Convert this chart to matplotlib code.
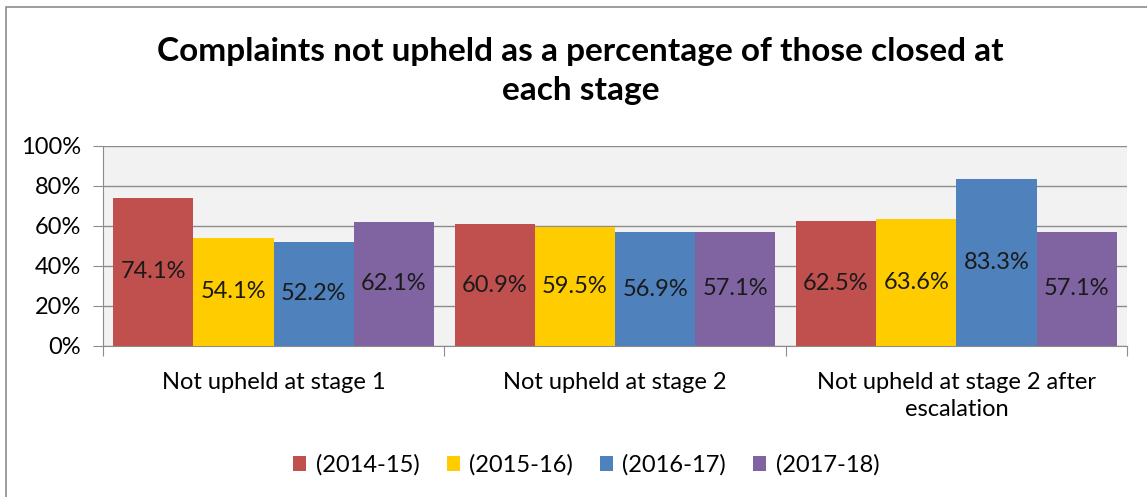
import matplotlib.pyplot as plt
import numpy as np
from matplotlib.patches import Rectangle
from matplotlib.ticker import PercentFormatter

plt.rcParams['font.family'] = ['Lato', 'DejaVu Sans']

categories = ['Not upheld at stage 1', 'Not upheld at stage 2',
              'Not upheld at stage 2 after\nescalation']
years = ['(2014-15)', '(2015-16)', '(2016-17)', '(2017-18)']
values = [
    [74.1, 60.9, 62.5],
    [54.1, 59.5, 63.6],
    [52.2, 56.9, 83.3],
    [62.1, 57.1, 57.1],
]
colors = ['#C0504D', '#FFCC00', '#4F81BD', '#8064A2']

fig = plt.figure(figsize=(11.47, 4.97), dpi=100)
ax = fig.add_axes([103 / 1147, 1 - 346 / 497, 1024 / 1147, 200 / 497])
ax.set_facecolor('#F2F2F2')

x = np.arange(len(categories))
w = 0.235
for i, (yr, vals) in enumerate(zip(years, values)):
    pos = x + (i - 1.5) * w
    bars = ax.bar(pos, vals, w, color=colors[i], label=yr, zorder=3)
    for b, v in zip(bars, vals):
        ax.text(b.get_x() + w / 2, v / 2, f'{v:.1f}%', ha='center',
                va='center', fontsize=17, color='#1a1a1a', zorder=4)

ax.set_xlim(-0.5, 2.5)
ax.set_ylim(0, 100)
ax.set_yticks(range(0, 101, 20))
ax.yaxis.set_major_formatter(PercentFormatter(decimals=0))
ax.grid(axis='y', color='#8c8c8c', linewidth=1, zorder=1)
ax.set_xticks([-0.5, 0.5, 1.5, 2.5])
ax.set_xticklabels([])
ax.set_xticks(x, minor=True)
ax.set_xticklabels(categories, minor=True, linespacing=1.35)
ax.tick_params(axis='x', which='minor', length=0, pad=19, labelsize=17)
ax.tick_params(axis='x', which='major', length=7, color='#8c8c8c')
ax.tick_params(axis='y', length=7, color='#8c8c8c', labelsize=17, pad=9)
for s in ['top', 'right']:
    ax.spines[s].set_visible(False)
for s in ['left', 'bottom']:
    ax.spines[s].set_color('#8c8c8c')

fig.text(0.506, 1 - 71 / 497, 'Complaints not upheld as a percentage of those closed at\neach stage',
         ha='center', va='center', fontsize=24, fontweight='bold',
         linespacing=1.38)

ax.legend(loc='center', bbox_to_anchor=(0.472, -0.595), ncol=4, frameon=False,
          fontsize=17, handlelength=0.55, handleheight=0.55, handletextpad=0.4,
          columnspacing=1.15)

fig.patches.append(Rectangle((6 / 1147, -0.1), 1.2, 1 - 7 / 497 + 0.1,
                             transform=fig.transFigure, fill=False,
                             edgecolor='#8c8c8c', linewidth=1.2))

fig.savefig('out.png', dpi=100)
